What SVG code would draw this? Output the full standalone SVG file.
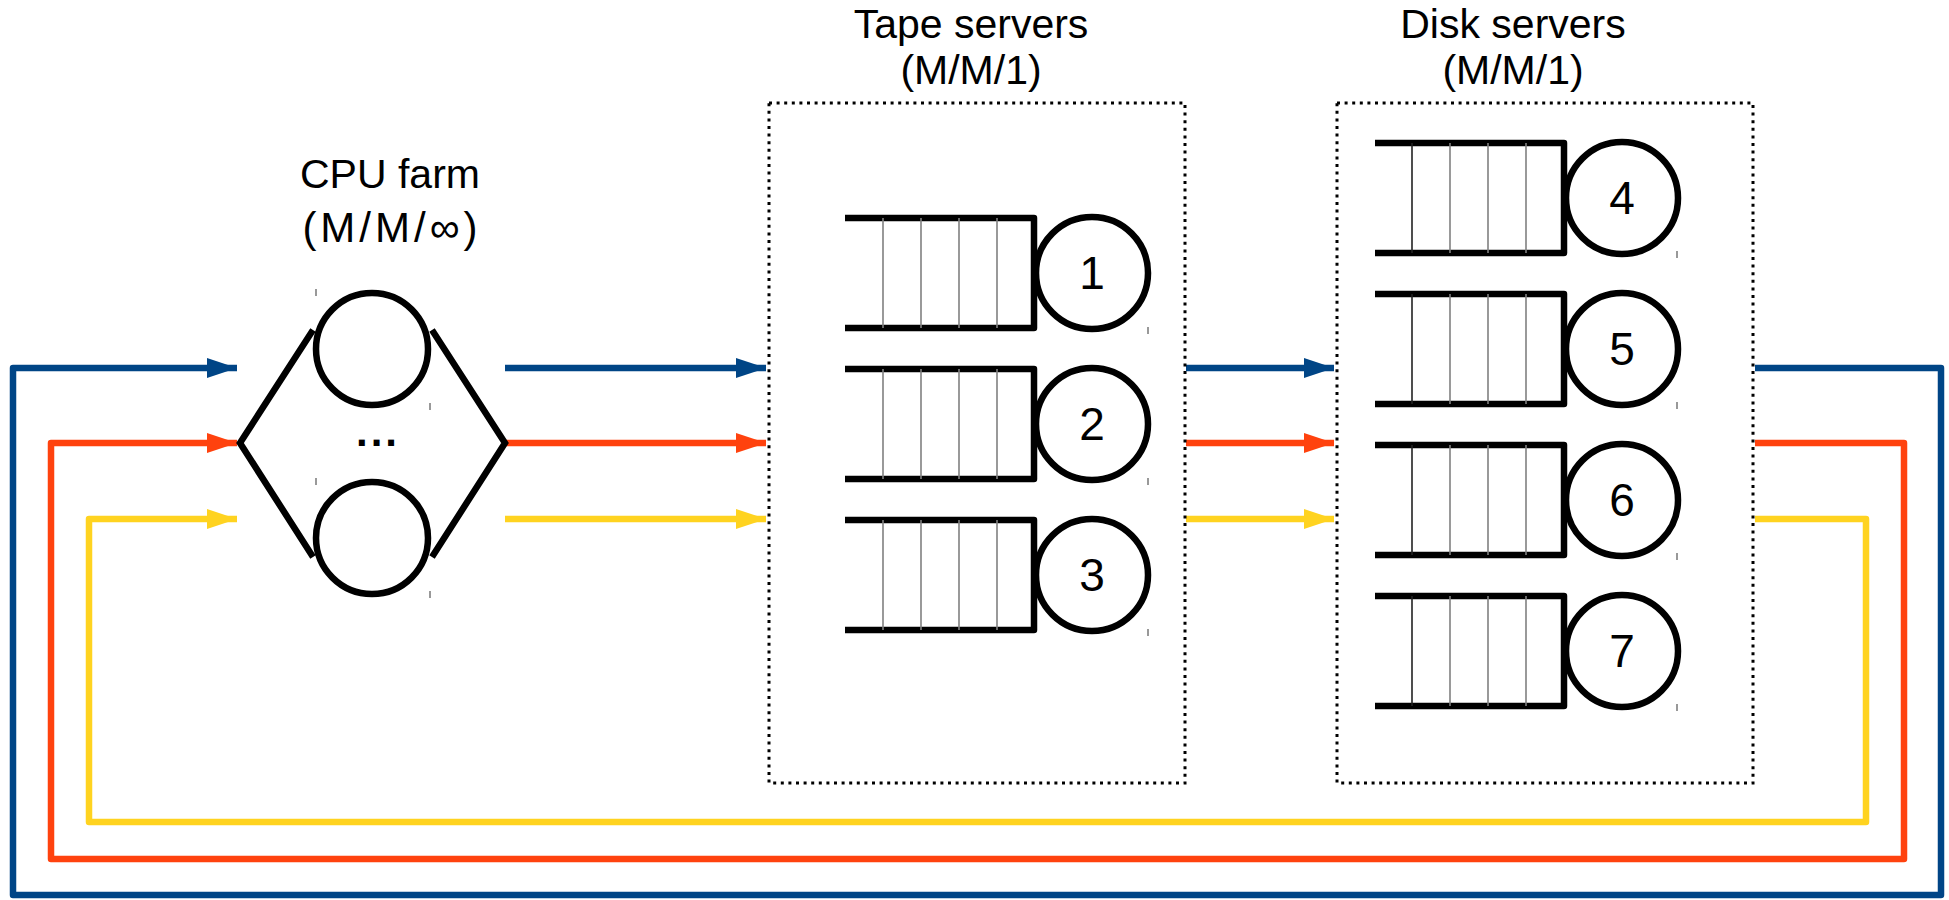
<svg xmlns="http://www.w3.org/2000/svg" width="1949" height="900" viewBox="0 0 1949 900">
<style>
  text { font-family: "Liberation Sans", Arial, sans-serif; fill: #000; }
  .title { font-size: 41px; text-anchor: middle; }
  .num { font-size: 46px; text-anchor: middle; }
  .box { fill: none; stroke: #000; stroke-width: 3; stroke-dasharray: 3 4.6; }
  .q { fill: none; stroke: #000; stroke-width: 6.5; stroke-linejoin: round; }
  .div { stroke: #808080; stroke-width: 1.6; }
  .div0 { stroke: #222; stroke-width: 1.6; }
  .srv { fill: #fff; stroke: #000; stroke-width: 6.5; }
  .tick { stroke: #555; stroke-width: 1.2; }
  .edge { fill: none; stroke-width: 6.5; stroke-linejoin: round; }
  .blue { stroke: #004586; }
  .red { stroke: #ff420e; }
  .yellow { stroke: #ffd320; }
</style>
<defs>
  <marker id="ab" markerWidth="30" markerHeight="20" refX="30" refY="10" orient="auto" markerUnits="userSpaceOnUse"><path d="M0,0 L30,10 L0,20 Z" fill="#004586"/></marker>
  <marker id="ar" markerWidth="30" markerHeight="20" refX="30" refY="10" orient="auto" markerUnits="userSpaceOnUse"><path d="M0,0 L30,10 L0,20 Z" fill="#ff420e"/></marker>
  <marker id="ay" markerWidth="30" markerHeight="20" refX="30" refY="10" orient="auto" markerUnits="userSpaceOnUse"><path d="M0,0 L30,10 L0,20 Z" fill="#ffd320"/></marker>
</defs>
<rect width="1949" height="900" fill="#fff"/>

<g id="connectors">
  <!-- feedback loops -->
  <path class="edge blue" d="M1755,368 H1941 V895 H13 V368 H237" marker-end="url(#ab)"/>
  <path class="edge red" d="M1755,443 H1904 V859 H51 V443 H237" marker-end="url(#ar)"/>
  <path class="edge yellow" d="M1755,519 H1866 V822 H89 V519 H237" marker-end="url(#ay)"/>
  <!-- CPU -> tape -->
  <path class="edge blue" d="M505,368 H766" marker-end="url(#ab)"/>
  <path class="edge red" d="M505,443 H766" marker-end="url(#ar)"/>
  <path class="edge yellow" d="M505,519 H766" marker-end="url(#ay)"/>
  <!-- tape -> disk -->
  <path class="edge blue" d="M1186,368 H1334" marker-end="url(#ab)"/>
  <path class="edge red" d="M1186,443 H1334" marker-end="url(#ar)"/>
  <path class="edge yellow" d="M1186,519 H1334" marker-end="url(#ay)"/>
</g>

<g id="cpu-farm">
  <text class="title" x="390" y="188">CPU farm</text>
  <text class="title" x="392" y="242" style="font-size:42px;letter-spacing:4px">(M/M/∞)</text>
  <path d="M313,330 L240,443 L313,557 M432,330 L505,443 L432,557" fill="none" stroke="#000" stroke-width="6.5" stroke-linejoin="miter"/>
  <circle class="srv" cx="372" cy="349" r="56"/>
  <circle class="srv" cx="372" cy="538" r="56"/>
  <text x="378" y="446" style="font-size:42px;font-weight:bold;text-anchor:middle;letter-spacing:3px">...</text>
  <line class="tick" x1="316" y1="289" x2="316" y2="296"/>
  <line class="tick" x1="430" y1="403" x2="430" y2="410"/>
  <line class="tick" x1="316" y1="478" x2="316" y2="485"/>
  <line class="tick" x1="430" y1="591" x2="430" y2="598"/>
</g>

<g id="tape-servers">
  <text class="title" x="971" y="38">Tape servers</text>
  <text class="title" x="971" y="84">(M/M/1)</text>
  <rect class="box" x="769" y="103" width="416" height="680"/>
</g>

<g id="tape-1">
  <path class="q" d="M845,218 H1034 V328 H845"/>
  <line class="div" x1="883" y1="218" x2="883" y2="328"/><line class="div" x1="921" y1="218" x2="921" y2="328"/><line class="div" x1="959" y1="218" x2="959" y2="328"/><line class="div" x1="997" y1="218" x2="997" y2="328"/>
  <circle class="srv" cx="1092" cy="273" r="56"/>
  <text class="num" x="1092" y="289">1</text>
  <line class="tick" x1="1148" y1="327" x2="1148" y2="334"/>
</g>
<g id="tape-2">
  <path class="q" d="M845,369 H1034 V479 H845"/>
  <line class="div" x1="883" y1="369" x2="883" y2="479"/><line class="div" x1="921" y1="369" x2="921" y2="479"/><line class="div" x1="959" y1="369" x2="959" y2="479"/><line class="div" x1="997" y1="369" x2="997" y2="479"/>
  <circle class="srv" cx="1092" cy="424" r="56"/>
  <text class="num" x="1092" y="440">2</text>
  <line class="tick" x1="1148" y1="478" x2="1148" y2="485"/>
</g>
<g id="tape-3">
  <path class="q" d="M845,520 H1034 V630 H845"/>
  <line class="div" x1="883" y1="520" x2="883" y2="630"/><line class="div" x1="921" y1="520" x2="921" y2="630"/><line class="div" x1="959" y1="520" x2="959" y2="630"/><line class="div" x1="997" y1="520" x2="997" y2="630"/>
  <circle class="srv" cx="1092" cy="575" r="56"/>
  <text class="num" x="1092" y="591">3</text>
  <line class="tick" x1="1148" y1="629" x2="1148" y2="636"/>
</g>

<g id="disk-servers">
  <text class="title" x="1513" y="38">Disk servers</text>
  <text class="title" x="1513" y="84">(M/M/1)</text>
  <rect class="box" x="1337" y="103" width="416" height="680"/>
</g>

<g id="disk-4">
  <path class="q" d="M1375,143 H1564 V253 H1375"/>
  <line class="div0" x1="1412" y1="143" x2="1412" y2="253"/><line class="div" x1="1450" y1="143" x2="1450" y2="253"/><line class="div" x1="1488" y1="143" x2="1488" y2="253"/><line class="div" x1="1526" y1="143" x2="1526" y2="253"/>
  <circle class="srv" cx="1622" cy="198" r="56"/>
  <text class="num" x="1622" y="214">4</text>
  <line class="tick" x1="1677" y1="251" x2="1677" y2="258"/>
</g>
<g id="disk-5">
  <path class="q" d="M1375,294 H1564 V404 H1375"/>
  <line class="div0" x1="1412" y1="294" x2="1412" y2="404"/><line class="div" x1="1450" y1="294" x2="1450" y2="404"/><line class="div" x1="1488" y1="294" x2="1488" y2="404"/><line class="div" x1="1526" y1="294" x2="1526" y2="404"/>
  <circle class="srv" cx="1622" cy="349" r="56"/>
  <text class="num" x="1622" y="365">5</text>
  <line class="tick" x1="1677" y1="402" x2="1677" y2="409"/>
</g>
<g id="disk-6">
  <path class="q" d="M1375,445 H1564 V555 H1375"/>
  <line class="div0" x1="1412" y1="445" x2="1412" y2="555"/><line class="div" x1="1450" y1="445" x2="1450" y2="555"/><line class="div" x1="1488" y1="445" x2="1488" y2="555"/><line class="div" x1="1526" y1="445" x2="1526" y2="555"/>
  <circle class="srv" cx="1622" cy="500" r="56"/>
  <text class="num" x="1622" y="516">6</text>
  <line class="tick" x1="1677" y1="553" x2="1677" y2="560"/>
</g>
<g id="disk-7">
  <path class="q" d="M1375,596 H1564 V706 H1375"/>
  <line class="div0" x1="1412" y1="596" x2="1412" y2="706"/><line class="div" x1="1450" y1="596" x2="1450" y2="706"/><line class="div" x1="1488" y1="596" x2="1488" y2="706"/><line class="div" x1="1526" y1="596" x2="1526" y2="706"/>
  <circle class="srv" cx="1622" cy="651" r="56"/>
  <text class="num" x="1622" y="667">7</text>
  <line class="tick" x1="1677" y1="704" x2="1677" y2="711"/>
</g>
</svg>
